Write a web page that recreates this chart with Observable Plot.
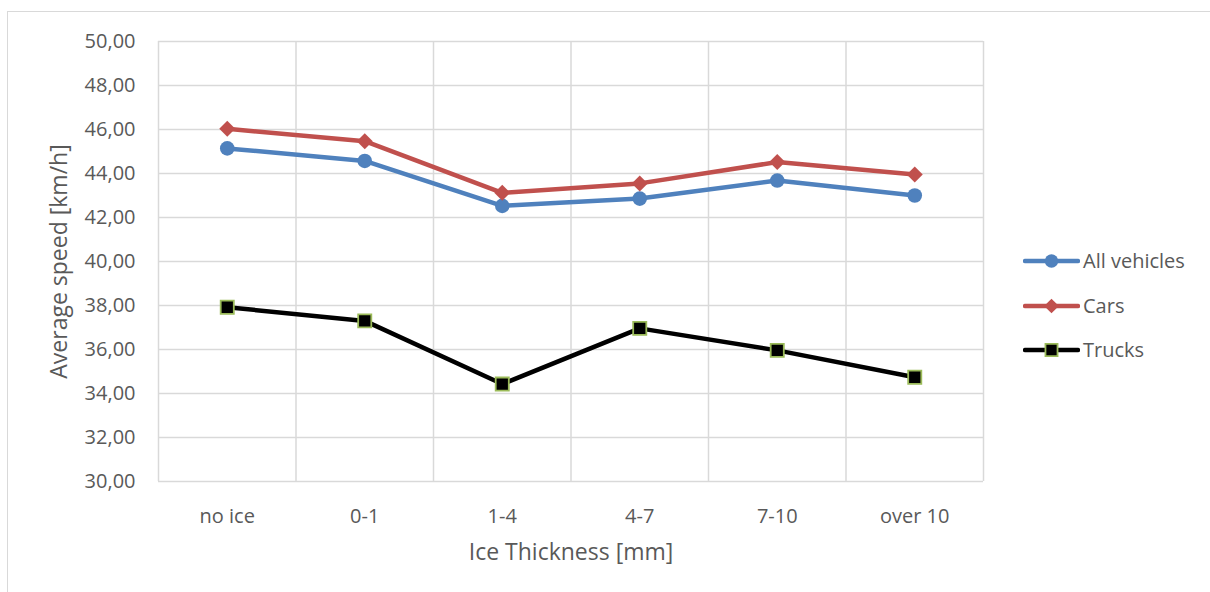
<!DOCTYPE html>
<html>
<head>
<meta charset="utf-8">
<script src="https://cdn.jsdelivr.net/npm/d3@7"></script>
<script src="https://cdn.jsdelivr.net/npm/@observablehq/plot@0.6"></script>
<style>
  html, body { margin: 0; padding: 0; background: #fff; }
  #wrap { position: relative; width: 1210px; height: 592px; overflow: hidden; font-family: "Open Sans", sans-serif; }
  #border { position: absolute; left: 7px; top: 11px; width: 1220px; height: 620px; border: 1.5px solid #d9d9d9; box-sizing: border-box; }
  #chart { position: absolute; left: 0; top: 0; }
  #legend { position: absolute; left: 1023px; top: 0; }
  .row { position: absolute; left: 0; display: flex; align-items: center; white-space: nowrap; }
  .row span { font-size: 20px; color: #595959; margin-left: 3px; line-height: 1; }
</style>
</head>
<body>
<div id="wrap">
  <div id="border"></div>
  <div id="chart"></div>
  <div id="legend"></div>
</div>
<script>
const categories = ["no ice", "0-1", "1-4", "4-7", "7-10", "over 10"];
const seriesNames = ["All vehicles", "Cars", "Trucks"];
const allVehicles = [45.14, 44.57, 42.53, 42.86, 43.68, 43.00];
const cars = [46.03, 45.47, 43.12, 43.55, 44.52, 43.95];
const trucks = [37.92, 37.30, 34.43, 36.96, 35.96, 34.74];
const yTicks = [30, 32, 34, 36, 38, 40, 42, 44, 46, 48, 50];

const seriesValues = [allVehicles, cars, trucks];
const styles = [
  {stroke: "#4f81bd", fill: "#4f81bd", symbol: "circle", r: 7.3, mstroke: "none"},
  {stroke: "#c0504d", fill: "#c0504d", symbol: "diamond2", r: 7.2, mstroke: "none"},
  {stroke: "#000000", fill: "#000000", symbol: "square", r: 7.4, mstroke: "#9bbb59"}
];

const rows = seriesNames.map((name, s) => ({
  name,
  data: categories.map((c, i) => ({i, category: c, value: seriesValues[s][i]}))
}));
const boundaries = d3.range(categories.length + 1).map(i => i - 0.5);

const marks = [
  Plot.ruleY(yTicks, {y: d => d, stroke: "#d9d9d9", strokeWidth: 1.5}),
  Plot.ruleX(boundaries, {x: d => d, stroke: "#d9d9d9", strokeWidth: 1.5})
];
rows.forEach((r, s) => {
  const st = styles[s];
  marks.push(Plot.line(r.data, {x: "i", y: "value", stroke: st.stroke, strokeWidth: 4.5, strokeLinejoin: "round", strokeLinecap: "round"}));
});
rows.forEach((r, s) => {
  const st = styles[s];
  marks.push(Plot.dot(r.data, {x: "i", y: "value", symbol: st.symbol, r: st.r, fill: st.fill, stroke: st.mstroke, strokeWidth: 1.8}));
});
marks.push(Plot.text(["Ice Thickness [mm]"], {text: d => d, frameAnchor: "bottom", textAnchor: "middle", lineAnchor: "middle", dy: 71, fontSize: 23, fill: "#595959"}));
marks.push(Plot.text(["Average speed [km/h]"], {text: d => d, frameAnchor: "left", textAnchor: "middle", lineAnchor: "middle", dx: -99, rotate: -90, fontSize: 23, fill: "#595959"}));

const chart = Plot.plot({
  width: 1210,
  height: 592,
  marginLeft: 158,
  marginRight: 227,
  marginTop: 41,
  marginBottom: 111,
  style: {background: "transparent", fontFamily: "'Open Sans', sans-serif", fontSize: "20px", color: "#595959", overflow: "visible"},
  x: {
    type: "linear",
    domain: [-0.5, categories.length - 0.5],
    ticks: categories.map((c, i) => i),
    tickFormat: i => categories[i],
    tickSize: 0,
    tickPadding: 27,
    label: null
  },
  y: {
    domain: [30, 50],
    ticks: yTicks,
    tickFormat: d => d.toFixed(2).replace(".", ","),
    tickSize: 0,
    tickPadding: 23,
    label: null
  },
  marks
});
document.getElementById("chart").appendChild(chart);

// Legend
const legend = d3.select("#legend");
const legendTops = [261, 306, 350];
seriesNames.forEach((name, s) => {
  const st = styles[s];
  const row = legend.append("div").attr("class", "row").style("top", (legendTops[s] - 11) + "px");
  const svg = row.append("svg").attr("width", 57).attr("height", 22);
  svg.append("line").attr("x1", 2).attr("x2", 55).attr("y1", 11).attr("y2", 11)
    .attr("stroke", st.stroke).attr("stroke-width", 4.5).attr("stroke-linecap", "round");
  const sym = {circle: d3.symbolCircle, diamond2: d3.symbolDiamond2, square: d3.symbolSquare}[st.symbol];
  svg.append("path").attr("transform", "translate(28.5,11)")
    .attr("d", d3.symbol(sym, Math.PI * (st.r * 0.92) ** 2)())
    .attr("fill", st.fill).attr("stroke", st.mstroke).attr("stroke-width", 1.8);
  row.append("span").text(name);
});
</script>
</body>
</html>
